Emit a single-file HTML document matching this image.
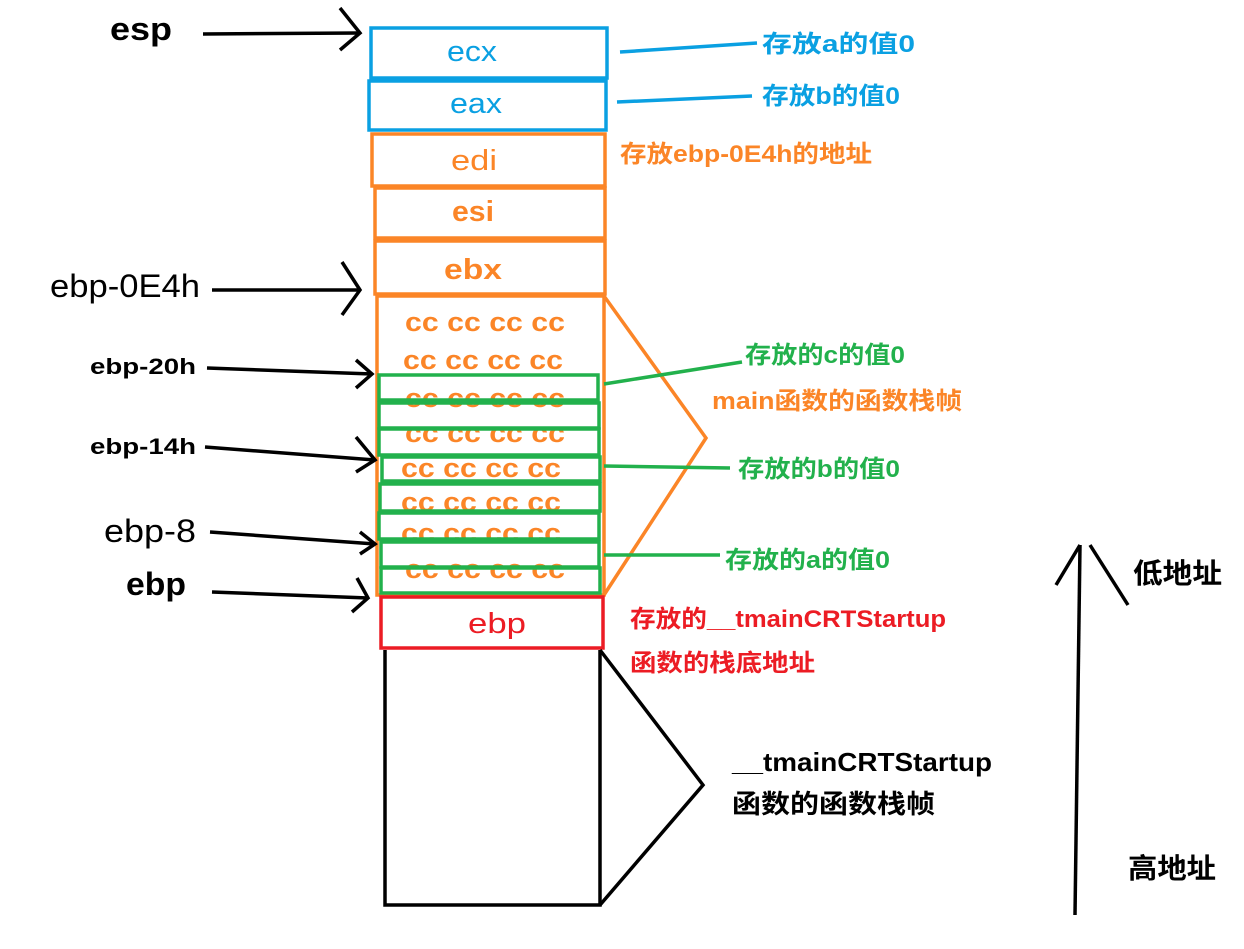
<!DOCTYPE html>
<html><head><meta charset="utf-8"><style>
html,body{margin:0;padding:0;background:#fff;}
svg{display:block}
text{font-family:"Liberation Sans","Noto Sans CJK SC",sans-serif;}
</style></head><body>
<svg width="1244" height="949" viewBox="0 0 1244 949" xmlns="http://www.w3.org/2000/svg">
<g fill="none" stroke-width="3.5">
<rect x="371" y="28" width="236" height="50" stroke="#0aa0e2"/>
<rect x="369" y="81" width="237" height="49" stroke="#0aa0e2"/>
<rect x="372" y="134" width="233" height="52" stroke="#fb8527"/>
<rect x="375" y="188" width="230" height="50" stroke="#fb8527"/>
<rect x="375" y="241" width="230" height="53" stroke="#fb8527"/>
<rect x="377" y="296" width="227" height="299" stroke="#fb8527"/>
<polyline points="604,296 706,438 604,595" stroke="#fb8527"/>
</g>
<g font-size="27" font-weight="bold" fill="#fb8527" lengthAdjust="spacingAndGlyphs">
<text x="405" y="331" textLength="160" lengthAdjust="spacingAndGlyphs">cc cc cc cc</text>
<text x="403" y="369" textLength="160" lengthAdjust="spacingAndGlyphs">cc cc cc cc</text>
<text x="405" y="407" textLength="160" lengthAdjust="spacingAndGlyphs">cc cc cc cc</text>
<text x="405" y="442" textLength="160" lengthAdjust="spacingAndGlyphs">cc cc cc cc</text>
<text x="401" y="477" textLength="160" lengthAdjust="spacingAndGlyphs">cc cc cc cc</text>
<text x="401" y="511" textLength="160" lengthAdjust="spacingAndGlyphs">cc cc cc cc</text>
<text x="401" y="542" textLength="160" lengthAdjust="spacingAndGlyphs">cc cc cc cc</text>
<text x="405" y="578" textLength="160" lengthAdjust="spacingAndGlyphs">cc cc cc cc</text>
</g>
<g fill="none" stroke="#22b14c" stroke-width="3.5">
<rect x="379" y="375" width="219" height="25"/>
<rect x="379" y="403" width="220" height="25"/>
<rect x="379" y="429" width="220" height="26"/>
<rect x="382" y="457" width="218" height="24"/>
<rect x="380" y="484" width="220" height="27"/>
<rect x="379" y="513" width="220" height="26"/>
<rect x="381" y="542" width="218" height="25"/>
<rect x="381" y="568" width="219" height="25"/>
<line x1="604" y1="384" x2="742" y2="362"/>
<line x1="604" y1="466" x2="730" y2="468"/>
<line x1="604" y1="555" x2="720" y2="555"/>
</g>
<rect x="381" y="597" width="222" height="51" fill="none" stroke="#ec1c24" stroke-width="3.5"/>
<g fill="none" stroke="#000" stroke-width="3.5">
<polyline points="385,650 385,905 600,905 600,650"/>
<polyline points="600,650 703,785 600,905"/>
<line x1="203" y1="34" x2="360" y2="33"/><polyline points="340,8 360,33 340,50"/>
<line x1="212" y1="290" x2="360" y2="290"/><polyline points="342,262 360,290 342,315"/>
<line x1="207" y1="368" x2="372" y2="374"/><polyline points="356,360 372,374 356,388"/>
<line x1="205" y1="447" x2="375" y2="460"/><polyline points="356,437 375,460 356,472"/>
<line x1="210" y1="532" x2="375" y2="544"/><polyline points="360,532 375,544 360,554"/>
<line x1="212" y1="592" x2="368" y2="598"/><polyline points="357,578 368,598 352,612"/>
<line x1="1075" y1="915" x2="1080" y2="545"/><line x1="1080" y1="545" x2="1056" y2="585"/><line x1="1090" y1="545" x2="1128" y2="605"/>
</g>
<g stroke-width="3.5" stroke="#0aa0e2" fill="none">
<line x1="620" y1="52" x2="757" y2="43"/>
<line x1="617" y1="102" x2="752" y2="96"/>
</g>
<g font-size="29">
<text x="447" y="61" fill="#0aa0e2" textLength="50" lengthAdjust="spacingAndGlyphs">ecx</text>
<text x="450" y="113" fill="#0aa0e2" textLength="52" lengthAdjust="spacingAndGlyphs">eax</text>
<text x="451" y="170" fill="#fb8527" textLength="46" lengthAdjust="spacingAndGlyphs">edi</text>
<text x="452" y="221" fill="#fb8527" font-weight="bold" textLength="42" lengthAdjust="spacingAndGlyphs">esi</text>
<text x="444" y="279" fill="#fb8527" font-weight="bold" textLength="58" lengthAdjust="spacingAndGlyphs">ebx</text>
<text x="468" y="633" fill="#ec1c24" textLength="58" lengthAdjust="spacingAndGlyphs">ebp</text>
</g>
<g font-weight="bold" font-size="24">
<text x="762" y="52" fill="#0aa0e2" textLength="153" lengthAdjust="spacingAndGlyphs">存放a的值0</text>
<text x="762" y="104" fill="#0aa0e2" textLength="138" lengthAdjust="spacingAndGlyphs">存放b的值0</text>
<text x="620" y="162" fill="#fb8527" textLength="252" lengthAdjust="spacingAndGlyphs">存放ebp-0E4h的地址</text>
<text x="745" y="363" fill="#22b14c" textLength="160" lengthAdjust="spacingAndGlyphs">存放的c的值0</text>
<text x="712" y="409" fill="#fb8527" textLength="250" lengthAdjust="spacingAndGlyphs">main函数的函数栈帧</text>
<text x="738" y="477" fill="#22b14c" textLength="162" lengthAdjust="spacingAndGlyphs">存放的b的值0</text>
<text x="725" y="568" fill="#22b14c" textLength="165" lengthAdjust="spacingAndGlyphs">存放的a的值0</text>
<text x="630" y="627" fill="#ec1c24" textLength="316" lengthAdjust="spacingAndGlyphs">存放的__tmainCRTStartup</text>
<text x="630" y="671" fill="#ec1c24" textLength="185" lengthAdjust="spacingAndGlyphs">函数的栈底地址</text>
<text x="732" y="771" fill="#000" font-size="26" textLength="260" lengthAdjust="spacingAndGlyphs">__tmainCRTStartup</text>
<text x="732" y="813" fill="#000" font-size="26" textLength="203" lengthAdjust="spacingAndGlyphs">函数的函数栈帧</text>
<text x="1133" y="583" fill="#000" font-size="28" textLength="89" lengthAdjust="spacingAndGlyphs">低地址</text>
<text x="1128" y="878" fill="#000" font-size="28" textLength="88" lengthAdjust="spacingAndGlyphs">高地址</text>
</g>
<g fill="#000">
<text x="110" y="40" font-size="32" font-weight="bold" textLength="62" lengthAdjust="spacingAndGlyphs">esp</text>
<text x="50" y="297" font-size="32" textLength="150" lengthAdjust="spacingAndGlyphs">ebp-0E4h</text>
<text x="90" y="374" font-size="22" font-weight="bold" textLength="106" lengthAdjust="spacingAndGlyphs">ebp-20h</text>
<text x="90" y="454" font-size="22" font-weight="bold" textLength="106" lengthAdjust="spacingAndGlyphs">ebp-14h</text>
<text x="104" y="542" font-size="32" textLength="92" lengthAdjust="spacingAndGlyphs">ebp-8</text>
<text x="126" y="595" font-size="32" font-weight="bold" textLength="60" lengthAdjust="spacingAndGlyphs">ebp</text>
</g>
</svg>
</body></html>
